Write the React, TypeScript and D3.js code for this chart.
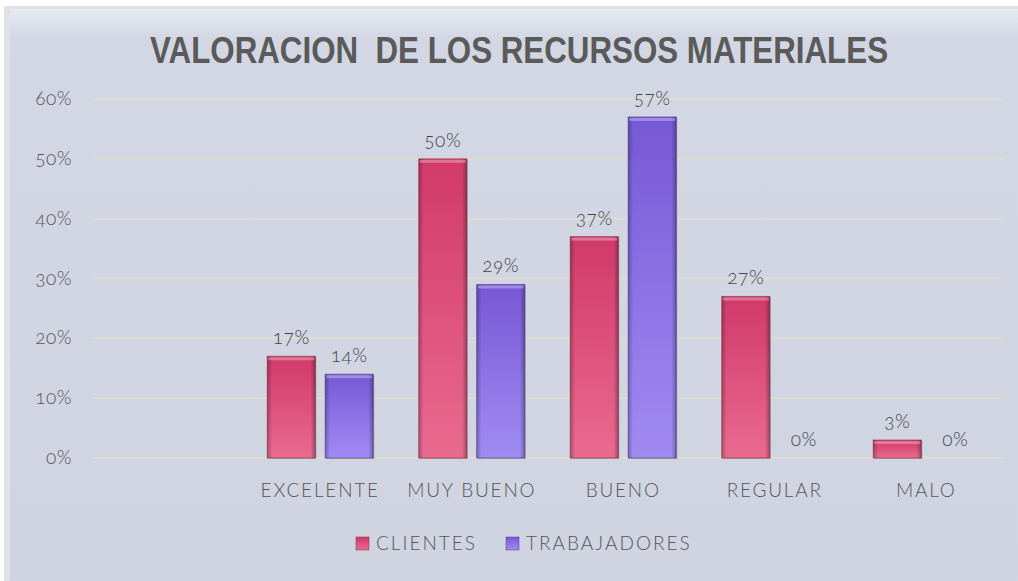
import React, { useLayoutEffect, useRef, useState } from "react";
import * as d3 from "d3";

const categories = ["", "EXCELENTE", "MUY BUENO", "BUENO", "REGULAR", "MALO"];
const clientes = [null, 17, 50, 37, 27, 3];
const trabajadores = [null, 14, 29, 57, 0, 0];
const yTicks = [0, 10, 20, 30, 40, 50, 60];
const seriesNames = ["CLIENTES", "TRABAJADORES"];
const title = "VALORACION  DE LOS RECURSOS MATERIALES";

const W = 1018;
const H = 581;
const M = { left: 93, right: 1002, top: 99, bottom: 458 };

export default function App() {
  const titleRef = useRef<SVGTextElement>(null);
  const [sx, setSx] = useState(0.85);
  useLayoutEffect(() => {
    if (titleRef.current) {
      const w = titleRef.current.getComputedTextLength();
      if (w > 0) setSx(738 / w);
    }
  }, []);
  const x = d3.scaleBand<string>().domain(categories.map((c, i) => String(i))).range([M.left, M.right]).paddingInner(0).paddingOuter(0);
  const y = d3.scaleLinear().domain([0, 60]).range([M.bottom, M.top]);
  const sub = d3.scaleBand<string>().domain(["0", "1"]).range([0, 106]).paddingInner(0.17);
  const groupOffset = (x.bandwidth() - 106) / 2;
  const font = "Lato, 'Open Sans', 'DejaVu Sans', sans-serif";
  const series = [clientes, trabajadores];
  const grads = ["gC", "gT"];
  const numStyle = { fontVariantNumeric: "oldstyle-nums", fontFeatureSettings: "'onum' 1" } as React.CSSProperties;
  return (
    <svg width={W} height={H} style={{ position: "absolute", left: 0, top: 0 }}>
      <defs>
        <linearGradient id="bg" x1="0" y1="0" x2="0" y2="1">
          <stop offset="0" stopColor="#e6eaf4" />
          <stop offset="0.05" stopColor="#d3d7e3" />
          <stop offset="1" stopColor="#d0d4e0" />
        </linearGradient>
        <linearGradient id="gC" x1="0" y1="0" x2="0" y2="1">
          <stop offset="0" stopColor="#d13a69" />
          <stop offset="1" stopColor="#e96a90" />
        </linearGradient>
        <linearGradient id="gT" x1="0" y1="0" x2="0" y2="1">
          <stop offset="0" stopColor="#7758d6" />
          <stop offset="1" stopColor="#a08bf2" />
        </linearGradient>
        <linearGradient id="edge" x1="0" y1="0" x2="1" y2="0">
          <stop offset="0" stopColor="#000" stopOpacity={0.25} />
          <stop offset="0.1" stopColor="#000" stopOpacity={0} />
          <stop offset="0.9" stopColor="#000" stopOpacity={0} />
          <stop offset="1" stopColor="#000" stopOpacity={0.3} />
        </linearGradient>
      </defs>
      <rect x={0} y={0} width={W} height={H} fill="#ffffff" />
      <rect x={4} y={6} width={W} height={H} fill="#e2e2e2" />
      <rect x={10} y={9} width={W} height={H} fill="url(#bg)" />
      <g transform={`translate(519,63) scale(${sx},1)`}>
        <text ref={titleRef} x={0} y={0} textAnchor="middle" fontFamily="'Liberation Sans Narrow', 'Arial Narrow', 'Liberation Sans', Arial, sans-serif" fontWeight="bold" fontSize={37} fill="#5a5a5a" style={{ whiteSpace: "pre" }}>
          {title}
        </text>
      </g>
      {yTicks.map((t) => (
        <g key={t}>
          <line x1={M.left} x2={M.right} y1={y(t)} y2={y(t)} stroke="#dedcd4" strokeWidth={2} />
          <text x={72} y={y(t) + 6} textAnchor="end" fontFamily={font} fontWeight={300} fontSize={19} fill="#555" letterSpacing={0.5} style={numStyle}>
            {t}%
          </text>
        </g>
      ))}
      {categories.map((c, i) => {
        const gx = (x(String(i)) as number) + groupOffset;
        return (
          <g key={i}>
            {series.map((s, k) => {
              const v = s[i];
              if (v === null || v === undefined) return null;
              const bx = gx + (sub(String(k)) as number);
              const bw = sub.bandwidth();
              const top = y(v);
              return (
                <g key={k}>
                  {v > 0 && (
                    <>
                      <rect x={bx + 1} y={top + 1} width={bw} height={y(0) - top} fill="#555" opacity={0.35} />
                      <rect x={bx} y={top} width={bw} height={y(0) - top} fill={`url(#${grads[k]})`} stroke={k === 0 ? "#8a2848" : "#4a3a8a"} strokeWidth={1} strokeOpacity={0.6} />
                      <rect x={bx} y={top} width={bw} height={y(0) - top} fill="url(#edge)" />
                      <rect x={bx + 1} y={top + 1} width={bw - 2} height={Math.min(3, y(0) - top - 1)} fill="#fff" opacity={0.3} />
                    </>
                  )}
                  <text x={bx + bw / 2} y={top - 12} textAnchor="middle" fontFamily={font} fontWeight={300} fontSize={19} fill="#444" letterSpacing={0.5} style={numStyle}>
                    {v}%
                  </text>
                </g>
              );
            })}
            <text x={(x(String(i)) as number) + x.bandwidth() / 2} y={497} textAnchor="middle" fontFamily={font} fontWeight={300} fontSize={19} fill="#555" letterSpacing={1.8}>
              {c}
            </text>
          </g>
        );
      })}
      {seriesNames.map((n, k) => {
        const lx = k === 0 ? 356 : 506;
        return (
          <g key={n}>
            <rect x={lx} y={537} width={13} height={13} fill={`url(#${grads[k]})`} stroke={k === 0 ? "#8a2848" : "#4a3a8a"} strokeOpacity={0.5} />
            <text x={lx + 20} y={550} fontFamily={font} fontWeight={300} fontSize={19} fill="#555" letterSpacing={2}>
              {n}
            </text>
          </g>
        );
      })}
    </svg>
  );
}
